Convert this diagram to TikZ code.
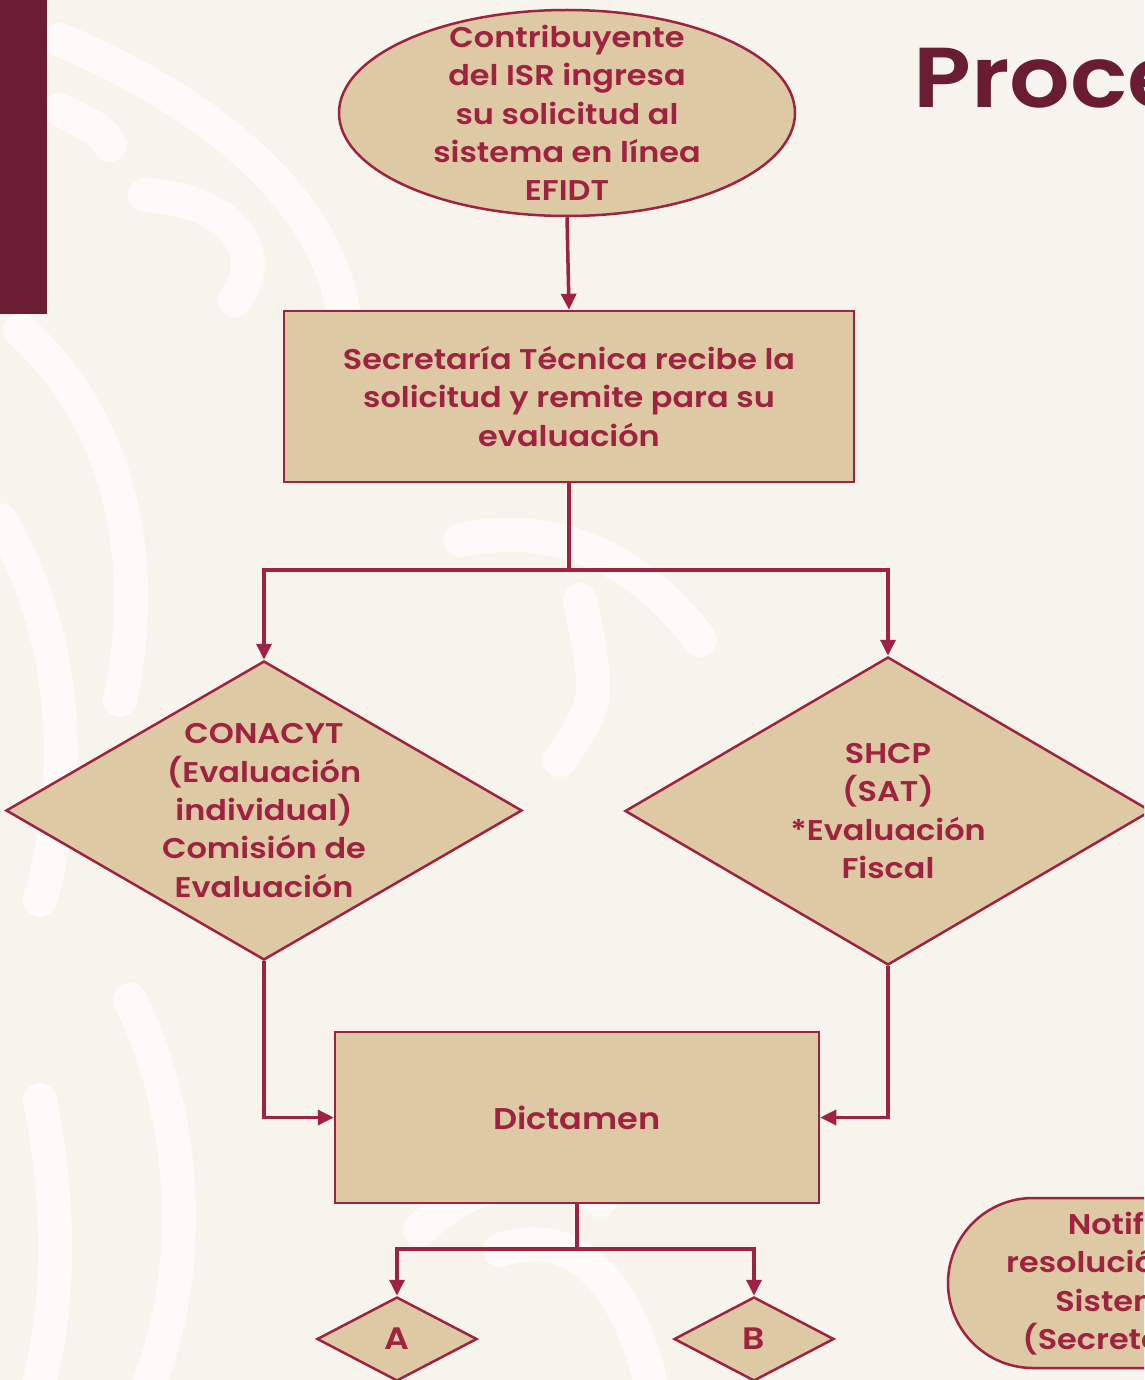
\documentclass[tikz,border=0pt]{standalone}
\usepackage{fontspec}
\setmainfont{Poppins}[BoldFont={Poppins SemiBold}, FakeStretch=1.12]
\usetikzlibrary{shapes.geometric,arrows.meta}
\definecolor{guinda}{HTML}{691C32}
\definecolor{rojo}{HTML}{9F2241}
\definecolor{beige}{HTML}{DDC9A3}
\definecolor{fondo}{HTML}{F7F4EE}
\tikzset{
  box/.style={draw=rojo, line width=2.5pt, fill=beige, inner sep=0pt},
  rbox/.style={box, rectangle},
  ebox/.style={box, ellipse},
  dbox/.style={box, diamond},
  txt/.style={text=rojo, font=\fontsize{28.5}{38.3}\selectfont\bfseries, align=center, inner sep=0pt},
  conn/.style={draw=rojo, line width=3.5pt},
  arr/.style={conn, -{Triangle[width=15pt,length=16pt]}},
  swirl/.style={white, line width=34pt, line cap=round, opacity=0.65},
}
\begin{document}
\begin{tikzpicture}[x=1pt,y=-1pt]
\useasboundingbox (0,0) rectangle (1144,1380);
\clip (0,0) rectangle (1144,1380);
\fill[fondo] (0,0) rectangle (1144,1380);
% background pattern
\draw[swirl] (60,40) .. controls (250,120) and (340,230) .. (345,330);
\draw[swirl] (60,110) .. controls (100,130) .. (110,145);
\draw[swirl] (145,195) .. controls (230,200) and (270,250) .. (235,300);
\draw[swirl] (20,330) .. controls (120,420) and (150,560) .. (120,700);
\draw[swirl] (0,520) .. controls (60,620) and (80,760) .. (40,900);
\draw[swirl] (130,1000) .. controls (180,1100) and (200,1250) .. (150,1380);
\draw[swirl] (40,1100) .. controls (60,1200) and (60,1300) .. (40,1380);
\draw[swirl] (500,1250) .. controls (560,1230) and (620,1260) .. (650,1380);
\draw[swirl] (420,1230) .. controls (480,1170) and (560,1170) .. (600,1200);
\draw[swirl] (460,540) .. controls (560,520) and (640,560) .. (700,640);
\draw[swirl] (580,600) .. controls (600,700) .. (560,760);
% left bar and title
\fill[guinda] (0,0) rectangle (47,314);
\node[anchor=base west, text=guinda, font=\fontsize{85}{90}\selectfont\bfseries, inner sep=0pt] (title) at (913,108) {Procedimiento};
% nodes
\node[ebox, minimum width=456pt, minimum height=206pt] (ell) at (567,113) {};
\node[txt] (ellt) at (ell.center) {Contribuyente\\del ISR ingresa\\su solicitud al\\sistema en línea\\EFIDT};
\node[rbox, minimum width=570pt, minimum height=171pt] (r1) at (569,396.5) {};
\node[txt] (r1t) at (r1.center) {Secretaría Técnica recibe la\\solicitud y remite para su\\evaluación};
\node[dbox, minimum width=516pt, minimum height=299pt] (d1) at (264,810.5) {};
\node[txt] (d1t) at (d1.center) {CONACYT\\(Evaluación\\individual)\\Comisión de\\Evaluación};
\node[dbox, minimum width=526pt, minimum height=308pt] (d2) at (888,811) {};
\node[txt] (d2t) at (d2.center) {SHCP\\(SAT)\\*Evaluación\\Fiscal};
\node[rbox, minimum width=484pt, minimum height=171pt] (r2) at (577,1117.5) {};
\node[txt, font=\fontsize{30}{38}\selectfont\bfseries] (r2t) at (r2.center) {Dictamen};
\node[dbox, minimum width=160pt, minimum height=84pt] (da) at (397,1339) {};
\node[txt, font=\fontsize{31}{38}\selectfont\bfseries] (dat) at (da.center) {A};
\node[dbox, minimum width=160pt, minimum height=84pt] (db) at (754,1339) {};
\node[txt, font=\fontsize{31}{38}\selectfont\bfseries] (dbt) at (db.center) {B};
\node[rbox, rounded corners=85pt, minimum width=484pt, minimum height=170pt] (nt) at (1190,1283) {};
\node[txt] (ntt) at (nt.center) {Notificación de\\resolución a través del\\Sistema en línea\\(Secretaría Técnica)};
% connectors
\draw[arr] (ell.south) -- (r1.north);
\coordinate (s1) at (r1.south |- 0,570);
\draw[conn] (r1.south) -- (s1);
\draw[arr] (s1) -| (d1.north);
\draw[arr] (s1) -| (d2.north);
\draw[arr] (d1.south) |- (r2.west);
\draw[arr] (d2.south) |- (r2.east);
\coordinate (s2) at (r2.south |- 0,1249);
\draw[conn] (r2.south) -- (s2);
\draw[arr] (s2) -| (da.north);
\draw[arr] (s2) -| (db.north);
\end{tikzpicture}
\end{document}
